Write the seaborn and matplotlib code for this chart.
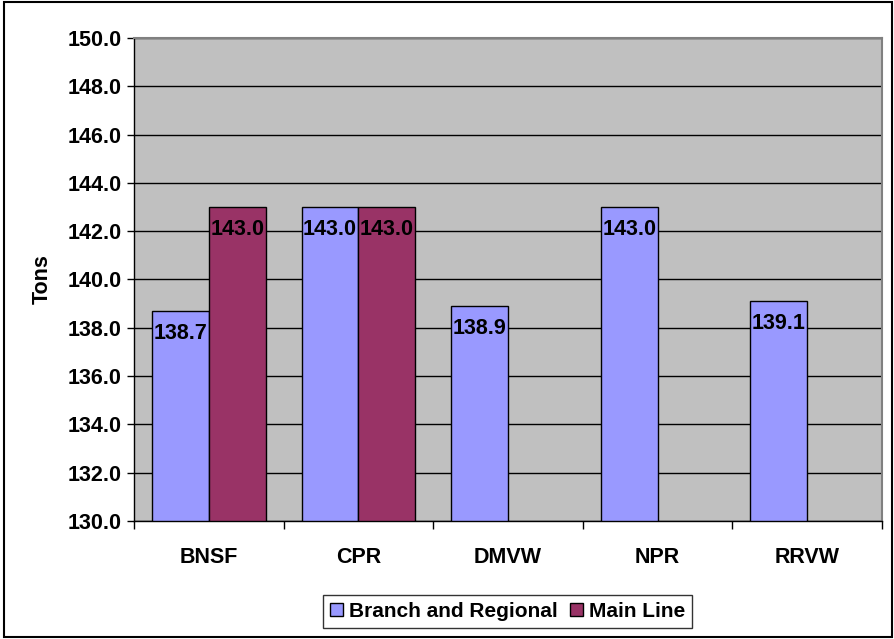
import numpy as np
import pandas as pd
import matplotlib
matplotlib.use('Agg')
import matplotlib.pyplot as plt
from matplotlib.patches import Rectangle
from matplotlib.ticker import FixedLocator, FormatStrFormatter
import seaborn as sns

# data
railroads = ['BNSF', 'CPR', 'DMVW', 'NPR', 'RRVW']
branch_regional = [138.7, 143.0, 138.9, 143.0, 139.1]
main_line = [143.0, 143.0, np.nan, np.nan, np.nan]
series_names = ['Branch and Regional', 'Main Line']

df = pd.DataFrame({
    'Railroad': railroads * 2,
    'Series': [series_names[0]] * 5 + [series_names[1]] * 5,
    'Tons': branch_regional + main_line,
})

sns.set_style('white')
plt.rcParams['font.family'] = ['Liberation Sans', 'DejaVu Sans']
plt.rcParams['font.weight'] = 'bold'
plt.rcParams['text.color'] = 'black'
plt.rcParams['axes.labelcolor'] = 'black'
plt.rcParams['xtick.color'] = 'black'
plt.rcParams['ytick.color'] = 'black'

FS = 15.5

fig = plt.figure(figsize=(8.94, 6.39), dpi=100)
ax = fig.add_axes([134 / 894, 1 - 521 / 639, 748 / 894, 483 / 639])
ax.set_facecolor('#C0C0C0')

sns.barplot(data=df, x='Railroad', y='Tons', hue='Series', order=railroads,
            hue_order=series_names, palette=['#9999FF', '#993366'],
            width=0.76, gap=0, edgecolor='black', linewidth=1,
            saturation=1, ax=ax, legend=True)

ax.set_ylim(130, 150)
ax.set_xlim(-0.5, 4.5)
ax.set_yticks(np.arange(130, 151, 2))
ax.yaxis.set_major_formatter(FormatStrFormatter('%.1f'))
ax.yaxis.grid(True, color='black', linewidth=1)
ax.set_axisbelow(True)

# data labels inside top of bars
for cont in ax.containers:
    for bar in cont:
        h = bar.get_height()
        if np.isnan(h) or h == 0:
            continue
        ax.annotate(f'{h:.1f}', xy=(bar.get_x() + bar.get_width() / 2, h),
                    xytext=(0, -16), textcoords='offset points',
                    ha='center', va='center', fontsize=FS, fontweight='bold')

ax.tick_params(axis='y', which='major', length=5, width=1,
               direction='out', pad=4, labelsize=FS, left=True)
ax.tick_params(axis='x', which='major', length=0, pad=19, labelsize=FS)
ax.xaxis.set_minor_locator(FixedLocator(np.arange(-0.5, 5, 1)))
ax.tick_params(axis='x', which='minor', length=6, width=1,
               direction='out', bottom=True)

ax.set_xlabel('')
ax.set_ylabel('Tons', fontsize=FS, fontweight='bold')
ax.yaxis.set_label_coords(-0.109, 0.5)

for s in ['left', 'bottom']:
    ax.spines[s].set_color('black')
    ax.spines[s].set_linewidth(1)
for s in ['top', 'right']:
    ax.spines[s].set_color('#808080')
    ax.spines[s].set_linewidth(1.5)

ax.get_legend().remove()
handles, labels = ax.get_legend_handles_labels()
leg = fig.legend(handles, labels, loc='center', ncol=2,
                 bbox_to_anchor=(507.5 / 894, 1 - 611.5 / 639),
                 frameon=True, fancybox=False, edgecolor='black',
                 prop={'size': 15, 'weight': 'bold'},
                 handlelength=0.6, handleheight=0.6, handletextpad=0.3,
                 columnspacing=0.6, borderpad=0.35, borderaxespad=0)
leg.get_frame().set_linewidth(1)

# outer chart border
fig.patches.append(Rectangle((4 / 894, 2 / 639), 888 / 894, 635 / 639,
                             transform=fig.transFigure, fill=False,
                             edgecolor='black', linewidth=1.5))

fig.savefig('out.png', dpi=100)
